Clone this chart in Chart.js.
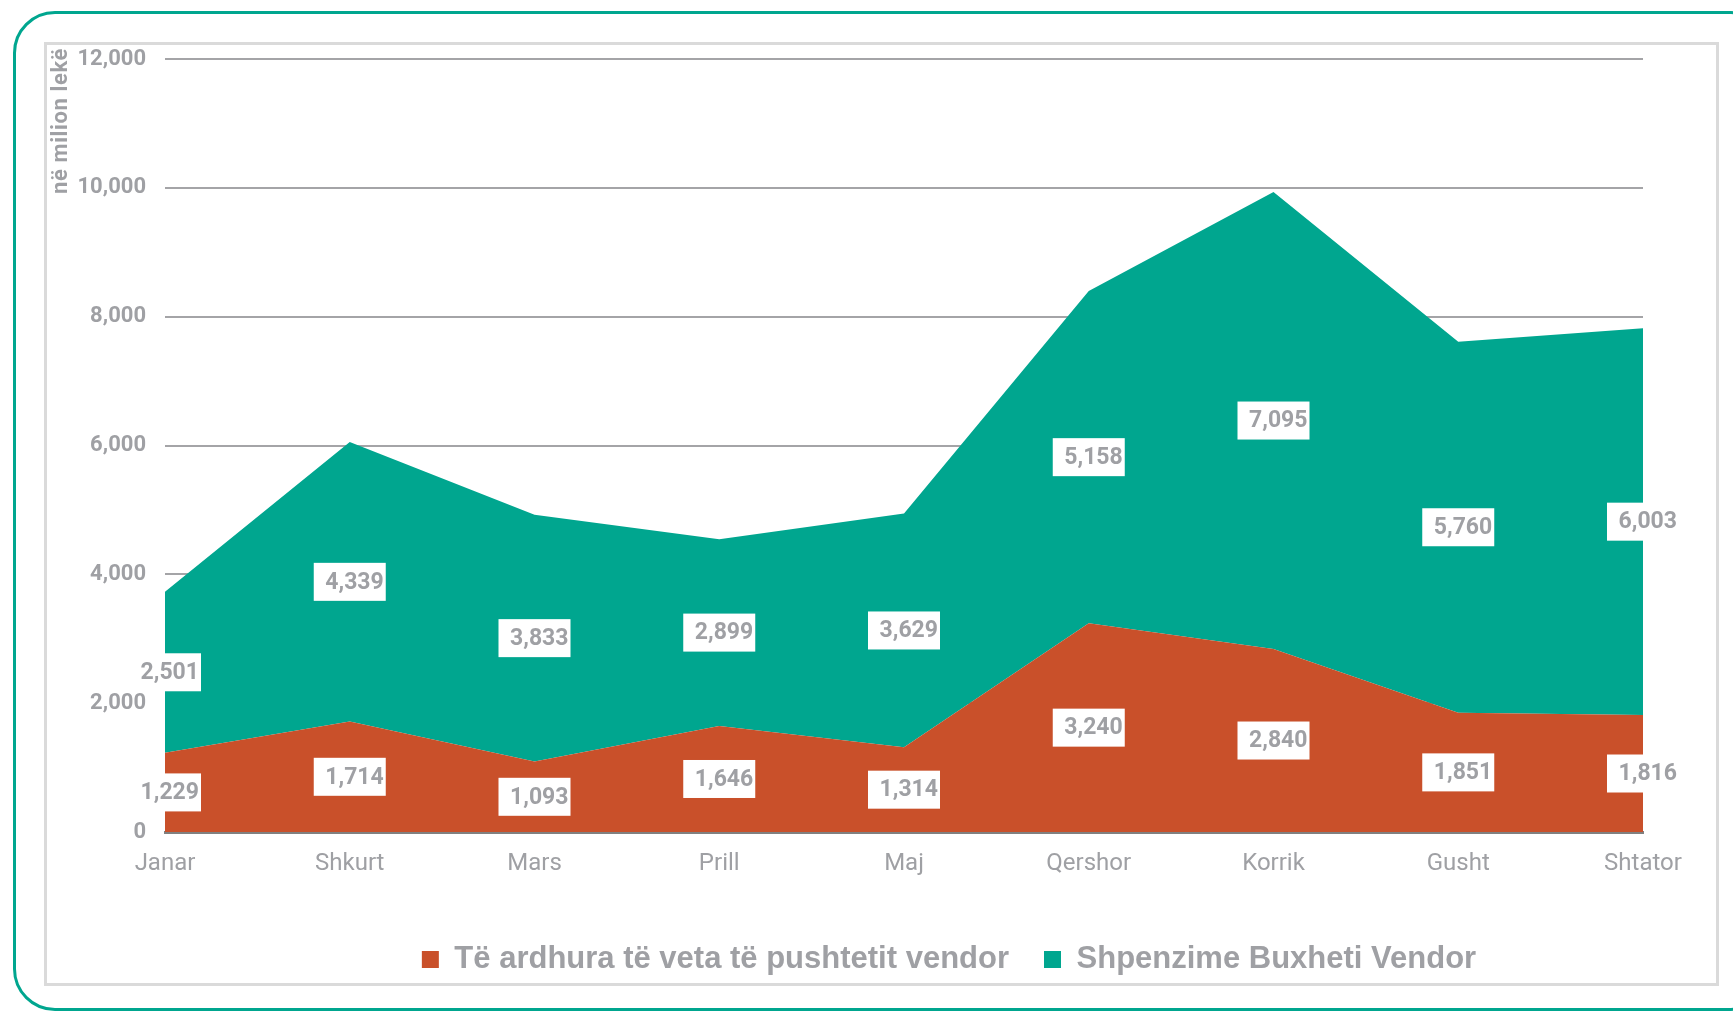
<!DOCTYPE html>
<html lang="sq">
  <head>
    <meta charset="UTF-8" />
    <title>Të ardhura dhe shpenzime të pushtetit vendor</title>
    <script src="https://cdn.jsdelivr.net/npm/chart.js"></script>
    <style>
      html, body {
        margin: 0;
        padding: 0;
        background: #fff;
        overflow: hidden;
      }
      .frame {
        position: absolute;
        left: 13px;
        top: 11px;
        width: 1760px;
        height: 1000px;
        border: 3px solid #00a68f;
        border-radius: 42px;
        box-sizing: border-box;
      }
      .panel {
        position: absolute;
        left: 44px;
        top: 42px;
        width: 1675px;
        height: 944px;
        border: 3px solid #dadada;
        box-sizing: border-box;
      }
      canvas {
        position: absolute;
        left: 0;
        top: 0;
      }
    </style>
  </head>
  <body>
    <div class="frame"></div>
    <div class="panel"></div>
    <canvas id="chart" width="1733" height="1013"></canvas>

    <script>
      // Monthly data, million lek
      const months = ["Janar", "Shkurt", "Mars", "Prill", "Maj", "Qershor", "Korrik", "Gusht", "Shtator"];
      const ownRevenue = [1229, 1714, 1093, 1646, 1314, 3240, 2840, 1851, 1816];
      const localSpending = [2501, 4339, 3833, 2899, 3629, 5158, 7095, 5760, 6003];
      const yTicks = [0, 2000, 4000, 6000, 8000, 10000, 12000];
      const unitTitle = "në milion lekë";

      const grey = "#9fa0a4";
      const red = "#c9502a";
      const teal = "#00a68f";

      // white boxes with the value in the middle of each band,
      // plus the unit title along the top of the value axis
      const bandLabels = {
        id: "bandLabels",
        afterDraw(chart) {
          const { ctx } = chart;
          const y = chart.scales.y;
          ctx.save();
          ctx.font = "700 23px Roboto";
          ctx.textAlign = "right";
          ctx.textBaseline = "middle";
          chart.data.datasets.forEach((ds, d) => {
            const meta = chart.getDatasetMeta(d);
            meta.data.forEach((pt, i) => {
              let base = 0;
              for (let k = 0; k < d; k++) base += chart.data.datasets[k].data[i];
              const v = ds.data[i];
              const py = y.getPixelForValue(base + v / 2);
              const txt = v.toLocaleString("en-US");
              const w = 72;
              const h = 38;
              ctx.fillStyle = "#fff";
              ctx.fillRect(pt.x - w / 2, py - h / 2, w, h);
              ctx.fillStyle = grey;
              ctx.fillText(txt, pt.x + w / 2 - 2, py + 1);
            });
          });

          ctx.translate(y.left + 14, chart.chartArea.top - 11);
          ctx.rotate(-Math.PI / 2);
          ctx.font = "700 22px Roboto";
          ctx.letterSpacing = "0.6px";
          ctx.fillStyle = grey;
          ctx.fillText(unitTitle, 0, 0);
          ctx.restore();
        },
      };

      // legend sits a bit right of centre in the original
      const legendShift = {
        id: "legendShift",
        afterLayout(chart) {
          chart.legend.left += 104;
          chart.legend.right += 104;
        },
      };

      new Chart(document.getElementById("chart"), {
        type: "line",
        data: {
          labels: months,
          datasets: [
            {
              label: "Të ardhura të veta të pushtetit vendor",
              data: ownRevenue,
              backgroundColor: red,
              borderColor: red,
              borderWidth: 0,
              pointRadius: 0,
              fill: "origin",
              tension: 0,
            },
            {
              label: "Shpenzime Buxheti Vendor",
              data: localSpending,
              backgroundColor: teal,
              borderColor: teal,
              borderWidth: 0,
              pointRadius: 0,
              fill: "-1",
              tension: 0,
            },
          ],
        },
        options: {
          responsive: false,
          animation: false,
          layout: {
            padding: { left: 47, top: 59, right: 90, bottom: 28 },
          },
          plugins: {
            tooltip: { enabled: false },
            legend: {
              position: "bottom",
              maxHeight: 130,
              labels: {
                boxWidth: 17,
                boxHeight: 17,
                padding: 35,
                color: grey,
                font: { family: "Liberation Sans", weight: "bold", size: 31 },
              },
            },
          },
          scales: {
            x: {
              offset: false,
              grid: { display: false, drawTicks: false },
              border: { display: true, color: "#808080", width: 3 },
              ticks: {
                color: grey,
                font: { family: "Roboto", size: 24 },
                padding: 18,
                maxRotation: 0,
                autoSkip: false,
              },
              afterFit(scale) {
                scale.height = 77;
              },
            },
            y: {
              stacked: true,
              min: 0,
              max: 12000,
              afterBuildTicks(scale) {
                scale.ticks = yTicks.map((v) => ({ value: v }));
              },
              grid: { color: "#a4a4a7", lineWidth: 2, drawTicks: false },
              border: { display: false },
              ticks: {
                color: grey,
                font: { family: "Roboto", weight: "700", size: 22 },
                padding: 19,
                callback: (v) => v.toLocaleString("en-US"),
              },
              afterFit(scale) {
                scale.width = 118;
              },
            },
          },
        },
        plugins: [bandLabels, legendShift],
      });
    </script>
  </body>
</html>
